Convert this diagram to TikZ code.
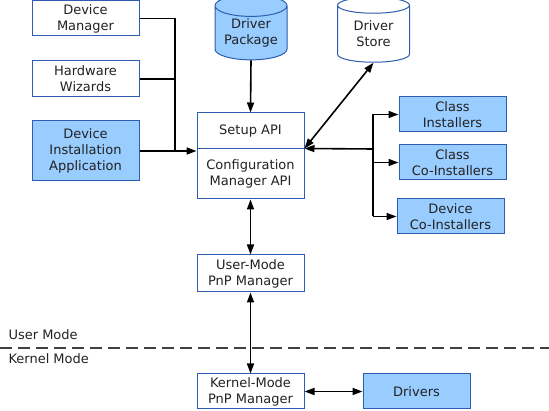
\documentclass[tikz,border=0pt]{standalone}
\usepackage{fontspec}
\setmainfont{DejaVu Sans}
\usetikzlibrary{arrows.meta,shapes.geometric}
\definecolor{boxline}{HTML}{2E5CB0}
\definecolor{boxfill}{HTML}{99CCFF}
\definecolor{txt}{HTML}{222222}
\tikzset{
  box/.style={draw=boxline, line width=1pt, fill=white, text=txt, align=center,
    minimum width=107pt, inner sep=0pt},
  bluebox/.style={box, fill=boxfill},
  store/.style={cylinder, shape border rotate=90, aspect=0.4, draw=boxline, line width=1pt,
    text=txt, align=center, minimum width=72pt, minimum height=65pt, inner sep=0pt},
  conn/.style={line width=1.6pt, black},
  tip/.style={-{Triangle[length=10pt,width=7pt]}},
  tips/.style={{Triangle[length=10pt,width=7pt]}-{Triangle[length=10pt,width=7pt]}}
}
\begin{document}
\begin{tikzpicture}[x=1pt,y=-1pt,font=\fontsize{13}{16}\selectfont]
\useasboundingbox (0,0) rectangle (549,411);
\node[box, minimum height=35pt] (dm) at (85.5,18.5) {Device\\Manager};
\node[box, minimum height=36pt] (hw) at (85.5,79) {Hardware\\Wizards};
\node[bluebox, minimum height=60pt] (dia) at (85.5,151) {Device\\Installation\\Application};
\node[store, fill=boxfill] (pkg) at (251,33) {Driver\\Package};
\node[store, fill=white] (drvstore) at (373.5,34) {Driver\\Store};
\node[box, minimum height=36pt] (setup) at (250.5,131) {Setup API};
\node[box, minimum height=50pt] (cm) at (250.5,174) {Configuration\\Manager API};
\node[bluebox, minimum height=35pt] (ci) at (452.5,114.5) {Class\\Installers};
\node[bluebox, minimum height=35pt] (cci) at (452.5,162.5) {Class\\Co-Installers};
\node[bluebox, minimum height=35pt] (dci) at (450.5,216.5) {Device\\Co-Installers};
\node[box, minimum height=37pt] (um) at (250.5,273.5) {User-Mode\\PnP Manager};
\node[box, minimum height=35pt] (km) at (250.5,391.5) {Kernel-Mode\\PnP Manager};
\node[bluebox, minimum height=35pt] (drv) at (416.5,391.5) {Drivers};
\node[text=txt, anchor=base west] (umode) at (5,340) {User Mode};
\node[text=txt, anchor=base west] (kmode) at (5,364) {Kernel Mode};
\coordinate (lbus) at (175,151);
\coordinate (rbus) at (373,149);
\draw[conn] (dm.east) -| (lbus);
\draw[conn] (hw.east) -- (hw.east -| lbus);
\draw[conn, tip] (dia.east) -- (dia.east -| cm.west);
\draw[conn, tip] (pkg.south) -- (setup.north);
\draw[conn, tips] (drvstore.south) -- (cm.north east);
\draw[conn, tip] (rbus) -- (cm.north east);
\draw[conn] (ci.west -| rbus) -- (dci.west -| rbus);
\draw[conn, tip] (ci.west -| rbus) -- (ci.west);
\draw[conn, tip] (cci.west -| rbus) -- (cci.west);
\draw[conn, tip] (dci.west -| rbus) -- (dci.west);
\draw[conn, tips] (cm.south) -- (um.north);
\draw[conn, tips] (um.south) -- (km.north);
\draw[conn, tips] (km.east) -- (drv.west);
\draw[line width=1.6pt, black!75, dash pattern=on 12pt off 6pt] (0,348) -- (549,348);
\end{tikzpicture}
\end{document}
